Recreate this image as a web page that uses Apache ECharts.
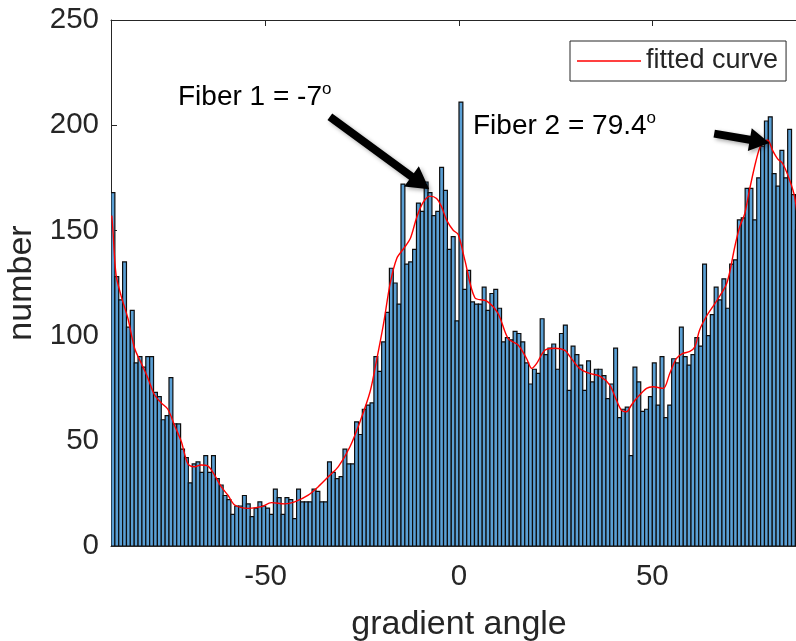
<!DOCTYPE html>
<html>
<head>
<meta charset="utf-8">
<script src="https://cdn.jsdelivr.net/npm/echarts@6/dist/echarts.min.js"></script>
<style>
  html, body { margin: 0; padding: 0; overflow: hidden; background: #fff; }
  #hist { width: 830px; height: 641px; }
</style>
</head>
<body>
<div id="hist"></div>
<script>
// histogram bins: 1 degree wide, from -90 to 90
const binMin = -90;
const binWidth = 1;
const counts = [
  168, 128, 117, 135, 104, 112, 87, 90, 85, 90,
  90, 73, 71, 60, 62, 80, 58, 58, 46, 42,
  30, 39, 40, 35, 43, 35, 43, 32, 29, 24,
  22, 15, 19, 19, 24, 20, 14, 18, 21, 19,
  18, 15, 27, 23, 15, 23, 22, 13, 27, 21,
  21, 21, 27, 26, 21, 21, 40, 35, 32, 33,
  46, 39, 39, 59, 53, 65, 67, 68, 90, 83,
  97, 111, 132, 125, 115, 172, 134, 135, 141, 163,
  159, 173, 168, 157, 159, 180, 169, 141, 147, 107,
  211, 122, 131, 116, 115, 115, 123, 112, 120, 122,
  113, 97, 99, 98, 102, 101, 97, 87, 77, 84,
  82, 108, 91, 94, 96, 84, 101, 105, 74, 95,
  91, 86, 74, 88, 78, 84, 84, 81, 70, 77,
  94, 61, 65, 66, 43, 85, 78, 64, 65, 71,
  87, 67, 90, 61, 67, 89, 87, 104, 90, 86,
  91, 99, 95, 134, 100, 110, 123, 117, 127, 113,
  134, 136, 155, 156, 170, 170, 155, 175, 190, 202,
  204, 177, 171, 188, 175, 198, 167, 150, 140, 130
];

// fitted curve
const curveAngle = [
  -89.8, -89.5, -88.7, -87.4, -85.6, -83.9, -82.2, -80.5, -78.8, -77,
  -75.3, -73.6, -71.8, -70.1, -68.4, -66.7, -64.9, -63.2, -61.5, -59.7,
  -58, -54.5, -51.1, -48.5, -45.1, -42.5, -39, -36.4, -33.8, -31.2,
  -28.2, -25.6, -23, -21.3, -19.5, -17.8, -16.1, -14.3, -12.6, -10.9,
  -9.2, -7.5, -5.8, -4.5, -3.2, -1.5, -0.2, 1.5, 4.1, 7.1,
  10.1, 12.7, 15.3, 17.5, 18.8, 20.1, 22.2, 24.8, 27.4, 28.7,
  31.2, 33.8, 36.4, 39, 40.7, 42, 43.3, 44.6, 45.9, 48.5,
  50.2, 52.8, 54.5, 56.2, 57.9, 59.7, 61, 62.2, 64, 65.7,
  67.4, 69.1, 70, 71.3, 72.6, 73.9, 75.1, 76.8, 78.1, 79.8,
  81.1, 82.4, 83.7, 85.5, 86.8, 88, 89.5
];
const curveValue = [
  157, 150, 129, 119, 108, 94, 87, 80, 72, 68,
  65, 57.5, 49.5, 39, 37.7, 38.5, 38, 33.7, 28.2, 24,
  19.5, 17.9, 18.7, 20.6, 20, 21, 24.2, 28.2, 32.9, 37.7,
  47.2, 59.1, 73.3, 88.4, 105.8, 124.8, 136.7, 141.4, 146.1, 156.4,
  163.5, 166.3, 165.2, 161.2, 154.9, 150.1, 148, 136, 118, 116.5,
  110.5, 98.6, 95.5, 89, 84.4, 86.8, 93, 94, 93, 90,
  84.4, 82, 80.7, 76.5, 69.4, 64.6, 63.8, 67, 70.1, 74.9,
  75.7, 74.9, 82, 89.1, 91.5, 92.5, 94.7, 102.6, 109.2, 113.9,
  118.7, 124.2, 130, 142, 151.7, 158, 169, 183, 190.5, 193,
  188, 184, 181.8, 174, 166, 150, 138
];

const xTickValues = [-50, 0, 50];

// annotation arrows: [tail, tip] in data units
const fiber1Arrow = [[-33.4, 204], [-7.7, 169.5]];
const fiber2Arrow = [[66.0, 196], [80.3, 191.5]];

const font = "'Liberation Sans', Arial, sans-serif";
const axisColor = '#262626';

const histData = counts.map((c, i) => [binMin + i * binWidth, binMin + (i + 1) * binWidth, c]);
const curveData = curveAngle.map((a, i) => [a, curveValue[i]]);

function renderBar(params, api) {
  const p0 = api.coord([api.value(0), 0]);
  const p1 = api.coord([api.value(1), api.value(2)]);
  return {
    type: 'rect',
    shape: { x: p0[0], y: p1[1], width: p1[0] - p0[0], height: p0[1] - p1[1] },
    style: { fill: '#5a9fd4', stroke: '#0d0d0d', lineWidth: 1.2 }
  };
}

let option = {
  animation: false,
  backgroundColor: '#fff',
  grid: { left: 111, top: 20, width: 696, height: 526, outerBoundsMode: 'none', containLabel: false },
  legend: {
    data: ['fitted curve'],
    left: 570,
    top: 41,
    icon: 'rect',
    itemWidth: 64,
    itemHeight: 1.5,
    padding: [5, 8, 5, 7],
    borderColor: axisColor,
    borderWidth: 1,
    backgroundColor: '#fff',
    selectedMode: false,
    textStyle: { fontSize: 27, color: axisColor, lineHeight: 30, fontFamily: font }
  },
  xAxis: [
    {
      type: 'value', min: -90, max: 90, position: 'bottom',
      name: 'gradient angle', nameLocation: 'middle', nameGap: 62,
      nameTextStyle: { fontSize: 34, color: axisColor, fontFamily: font },
      axisLine: { show: true, onZero: false, lineStyle: { color: axisColor, width: 1 } },
      axisTick: { show: true, inside: true, length: 6, customValues: xTickValues, lineStyle: { color: axisColor } },
      axisLabel: { customValues: xTickValues, fontSize: 29.5, color: axisColor, margin: 16, fontFamily: font },
      splitLine: { show: false }
    },
    {
      type: 'value', min: -90, max: 90, position: 'top',
      axisLine: { show: true, onZero: false, lineStyle: { color: axisColor, width: 1 } },
      axisTick: { show: true, inside: true, length: 6, customValues: xTickValues, lineStyle: { color: axisColor } },
      axisLabel: { show: false },
      splitLine: { show: false }
    }
  ],
  yAxis: [
    {
      type: 'value', min: 0, max: 250, interval: 50,
      name: 'number', nameLocation: 'middle', nameGap: 71, nameRotate: 90,
      nameTextStyle: { fontSize: 34, color: axisColor, fontFamily: font },
      axisLine: { show: true, onZero: false, lineStyle: { color: axisColor, width: 1 } },
      axisTick: { show: true, inside: true, length: 6, lineStyle: { color: axisColor } },
      axisLabel: { fontSize: 29.5, color: axisColor, margin: 12, fontFamily: font },
      splitLine: { show: false }
    }
  ],
  series: [
    {
      name: 'histogram',
      type: 'custom',
      renderItem: renderBar,
      encode: { x: [0, 1], y: 2 },
      data: histData,
      clip: true,
      z: 2
    },
    {
      name: 'fitted curve',
      type: 'line',
      data: curveData,
      symbol: 'none',
      smooth: 0.3,
      clip: true,
      itemStyle: { color: '#ff0000' },
      lineStyle: { color: '#ff0000', width: 1.4 },
      z: 3
    }
  ]
};

const chart = echarts.init(document.getElementById('hist'), null, { renderer: 'canvas' });
chart.setOption(option);

function arrowPoints(tail, tip, shaftW, headL, headW) {
  const t = chart.convertToPixel({ xAxisIndex: 0, yAxisIndex: 0 }, tail);
  const p = chart.convertToPixel({ xAxisIndex: 0, yAxisIndex: 0 }, tip);
  const dx = p[0] - t[0], dy = p[1] - t[1];
  const len = Math.sqrt(dx * dx + dy * dy);
  const ux = dx / len, uy = dy / len;
  const nx = -uy, ny = ux;
  const b = [p[0] - ux * headL, p[1] - uy * headL];
  return [
    [t[0] + nx * shaftW / 2, t[1] + ny * shaftW / 2],
    [b[0] + nx * shaftW / 2, b[1] + ny * shaftW / 2],
    [b[0] + nx * headW / 2, b[1] + ny * headW / 2],
    p,
    [b[0] - nx * headW / 2, b[1] - ny * headW / 2],
    [b[0] - nx * shaftW / 2, b[1] - ny * shaftW / 2],
    [t[0] - nx * shaftW / 2, t[1] - ny * shaftW / 2]
  ];
}

const arrowStyle = {
  fill: '#000',
  shadowBlur: 4,
  shadowColor: 'rgba(0,0,0,0.35)',
  shadowOffsetX: 2,
  shadowOffsetY: 2
};
const richText = {
  a: { fontSize: 28, color: '#000', fontFamily: font, lineHeight: 32 },
  s: { fontSize: 17, color: '#000', fontFamily: font, lineHeight: 17, verticalAlign: 'top' }
};

chart.setOption({
  graphic: [
    { type: 'polygon', z: 100, shape: { points: arrowPoints(fiber1Arrow[0], fiber1Arrow[1], 8, 22, 25) }, style: arrowStyle },
    { type: 'polygon', z: 100, shape: { points: arrowPoints(fiber2Arrow[0], fiber2Arrow[1], 8, 20, 23) }, style: arrowStyle },
    { type: 'text', z: 100, left: 178, top: 81, style: { text: '{a|Fiber 1 = -7}{s|o}', rich: richText } },
    { type: 'text', z: 100, left: 473, top: 110, style: { text: '{a|Fiber 2 = 79.4}{s|o}', rich: richText } }
  ]
});
</script>
</body>
</html>
